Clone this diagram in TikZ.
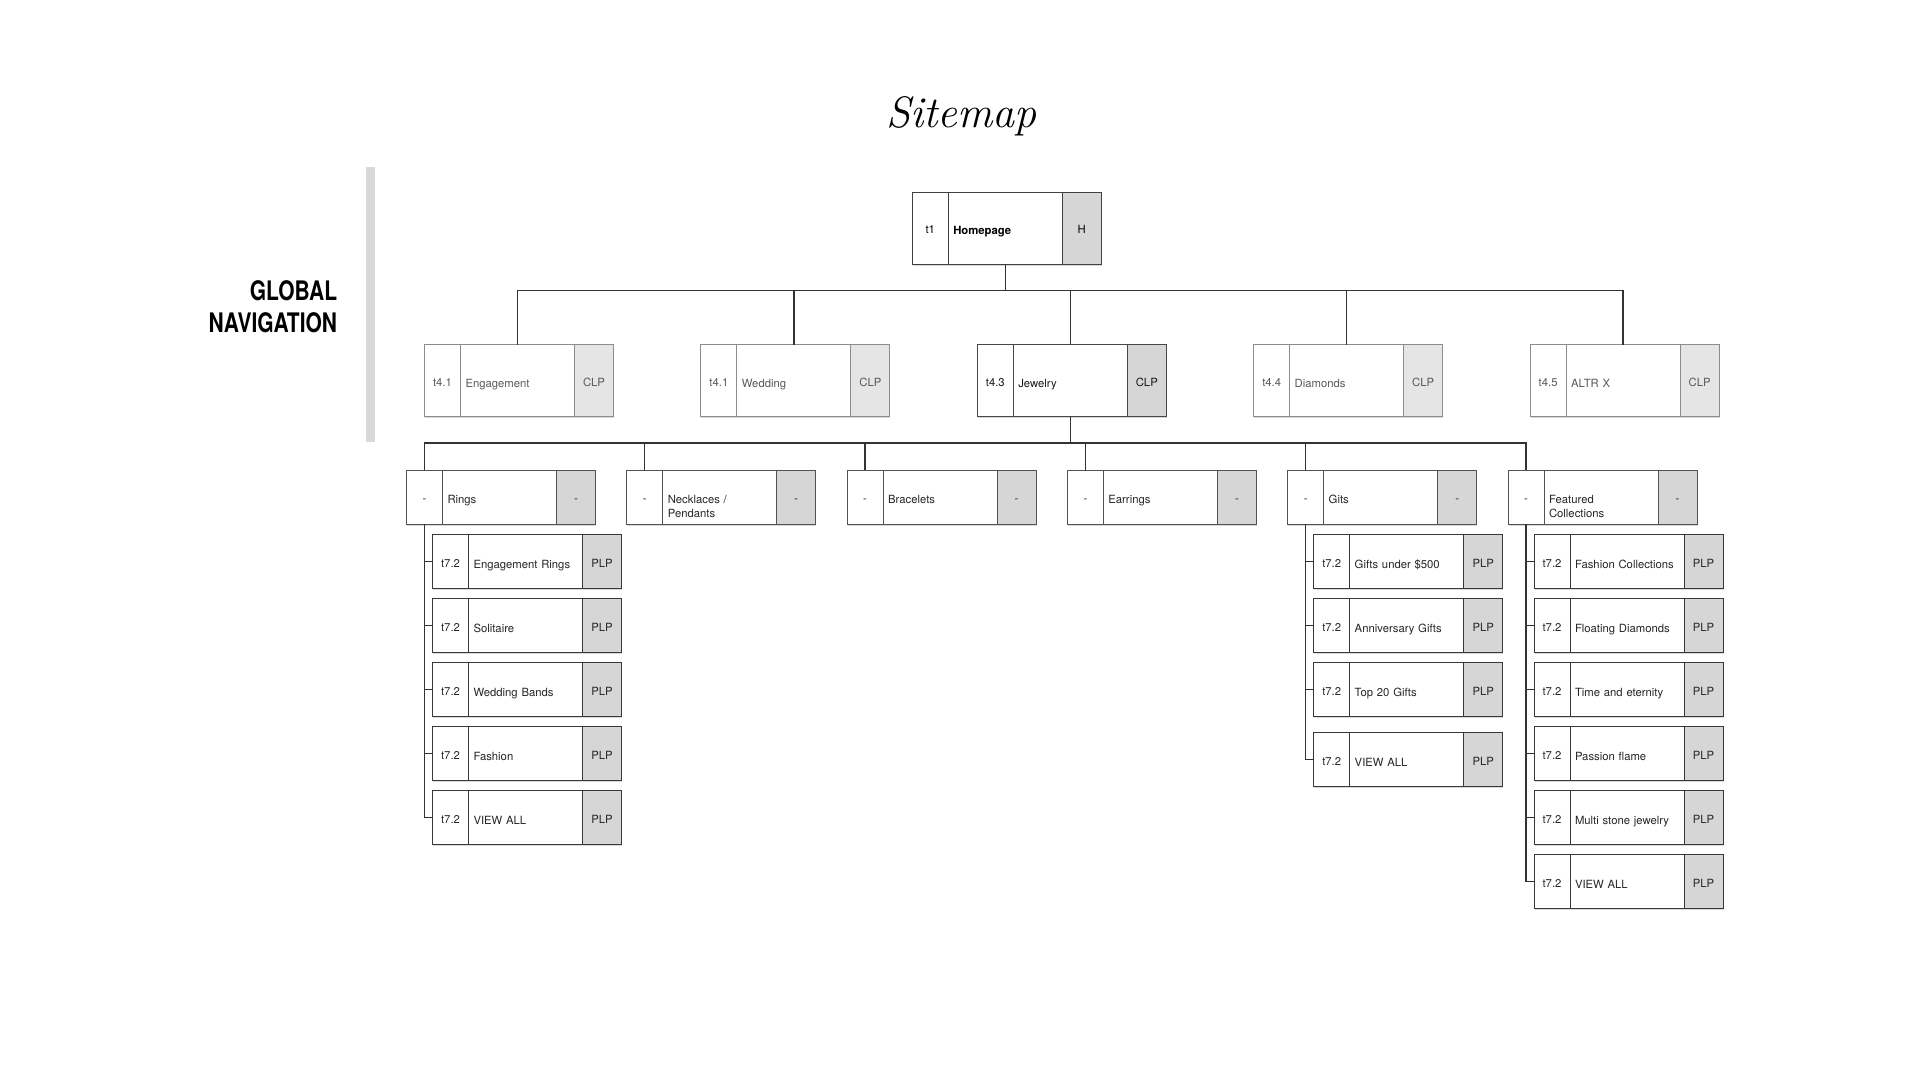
\documentclass[tikz,border=0pt]{standalone}
\usepackage{fontspec}
\usetikzlibrary{positioning,shadows}
\newfontfamily\helv{TeX Gyre Heros}
\newfontfamily\navfont[FakeStretch=0.78]{TeX Gyre Heros}

\begin{document}
\begin{tikzpicture}[
        x=1pt, y=-1pt,
        cell/.style={draw, fill=white, line width=1pt, outer sep=0pt, inner sep=0pt,
            minimum height=72pt, font=\helv\fontsize{11.3}{13.5}\selectfont,
            drop shadow={shadow xshift=0.5pt, shadow yshift=-1.8pt, opacity=0.15, fill=black}},
        codecell/.style={cell, minimum width=36pt, text height=11pt, text depth=0pt},
        namecell/.style={cell, minimum width=114pt, text width=104pt, inner xsep=5pt,
            align=left, text height=13pt, text depth=0pt},
        typecell/.style={cell, minimum width=39pt, text height=11pt, text depth=0pt},
        typeshade/.style={fill=black!16},
        homebox/.style={draw=black!75, text=black},
        palebox/.style={draw=black!45, text=black!65, typeshade/.style={fill=black!10}},
        mainbox/.style={draw=black!72, text=black!90},
        catbox/.style={draw=black!68, text=black!85, minimum height=54pt},
        leafbox/.style={draw=black!78, text=black!85, minimum height=54pt},
        link/.style={draw=black!80, line width=1.3pt},
        heading/.style={font=\fontsize{44}{52}\selectfont\itshape},
        navlabel/.style={font=\navfont\bfseries\fontsize{26.9}{31.7}\selectfont,
            align=right, inner sep=0pt}]
        % One page box: code cell, page name, page type.
        \def\sitebox#1#2#3#4#5#6{%
                \node[codecell, #2, #3] (#1-c) {#4};
                \node[namecell, #2, right=0pt of #1-c] (#1) {#5};
                \node[typecell, #2, typeshade, right=0pt of #1] (#1-t) {#6};}

        \useasboundingbox (0,0) rectangle (1920,1080);

        % Title and section marker.
        \node[heading, anchor=base] (title) at (961.5,127) {Sitemap};
        \node[navlabel, anchor=north east] (nav) at (337.3,280.3) {GLOBAL\\NAVIGATION};
        \fill[black!15] (366,167) rectangle (375,442);

        % Homepage and global navigation.
        \sitebox{home}{homebox}{anchor=west, at={(912.3,228.3)}}{t1}{\bfseries Homepage}{H}
        \sitebox{eng}{palebox}{anchor=west, at={(424.5,380.5)}}{t4.1}{Engagement}{CLP}
        \sitebox{wed}{palebox}{right=87.4pt of eng-t}{t4.1}{Wedding}{CLP}
        \sitebox{jew}{mainbox}{right=87.4pt of wed-t}{t4.3}{Jewelry}{CLP}
        \sitebox{dia}{palebox}{right=87.4pt of jew-t}{t4.4}{Diamonds}{CLP}
        \sitebox{altr}{palebox}{right=87.4pt of dia-t}{t4.5}{ALTR X}{CLP}

        % Jewelry categories.
        \sitebox{rings}{catbox}{anchor=west, at={(406.5,497.2)}}{-}{Rings}{-}
        \sitebox{neck}{catbox}{right=31.3pt of rings-t}{-}{Necklaces /\\Pendants}{-}
        \sitebox{brac}{catbox}{right=31.3pt of neck-t}{-}{Bracelets}{-}
        \sitebox{earr}{catbox}{right=31.3pt of brac-t}{-}{Earrings}{-}
        \sitebox{gits}{catbox}{right=31.3pt of earr-t}{-}{Gits}{-}
        \sitebox{feat}{catbox}{right=31.3pt of gits-t}{-}{Featured\\Collections}{-}

        % Product listing pages under each category.
        \sitebox{ring1}{leafbox}{below right=10.3pt and 26pt of rings-c.south west}{t7.2}{Engagement Rings}{PLP}
        \foreach \i/\lab [remember=\i as \prev (initially 1)] in
                {2/Solitaire, 3/Wedding Bands, 4/Fashion, 5/VIEW ALL}
                { \sitebox{ring\i}{leafbox}{below=10pt of ring\prev-c}{t7.2}{\lab}{PLP} }

        \sitebox{gift1}{leafbox}{below right=10.3pt and 26pt of gits-c.south west}{t7.2}{Gifts under \$500}{PLP}
        \sitebox{gift2}{leafbox}{below=10pt of gift1-c}{t7.2}{Anniversary Gifts}{PLP}
        \sitebox{gift3}{leafbox}{below=10pt of gift2-c}{t7.2}{Top 20 Gifts}{PLP}
        \sitebox{gift4}{leafbox}{below=16pt of gift3-c}{t7.2}{VIEW ALL}{PLP}

        \sitebox{feat1}{leafbox}{below right=10.3pt and 26pt of feat-c.south west}{t7.2}{Fashion Collections}{PLP}
        \foreach \i/\lab [remember=\i as \prev (initially 1)] in
                {2/Floating Diamonds, 3/Time and eternity, 4/Passion flame,
                 5/Multi stone jewelry, 6/VIEW ALL}
                { \sitebox{feat\i}{leafbox}{below=10pt of feat\prev-c}{t7.2}{\lab}{PLP} }

        % Connectors.
        \coordinate (bus1) at (0,290.7);
        \coordinate (bus2) at (0,443);
        \foreach \n in {eng,wed,jew,dia,altr}
                \draw[link] (home.south) -- (home.south |- bus1) -| (\n.north);
        \foreach \n in {rings,neck,brac,earr,gits,feat}
                \draw[link] (jew.south) -- (jew.south |- bus2) -| (\n-c.north);
        \foreach \i in {1,...,5} \draw[link] (rings-c.south) |- (ring\i-c.west);
        \foreach \i in {1,...,4} \draw[link] (gits-c.south) |- (gift\i-c.west);
        \foreach \i in {1,...,6} \draw[link] (feat-c.south) |- (feat\i-c.west);
\end{tikzpicture}
\end{document}
